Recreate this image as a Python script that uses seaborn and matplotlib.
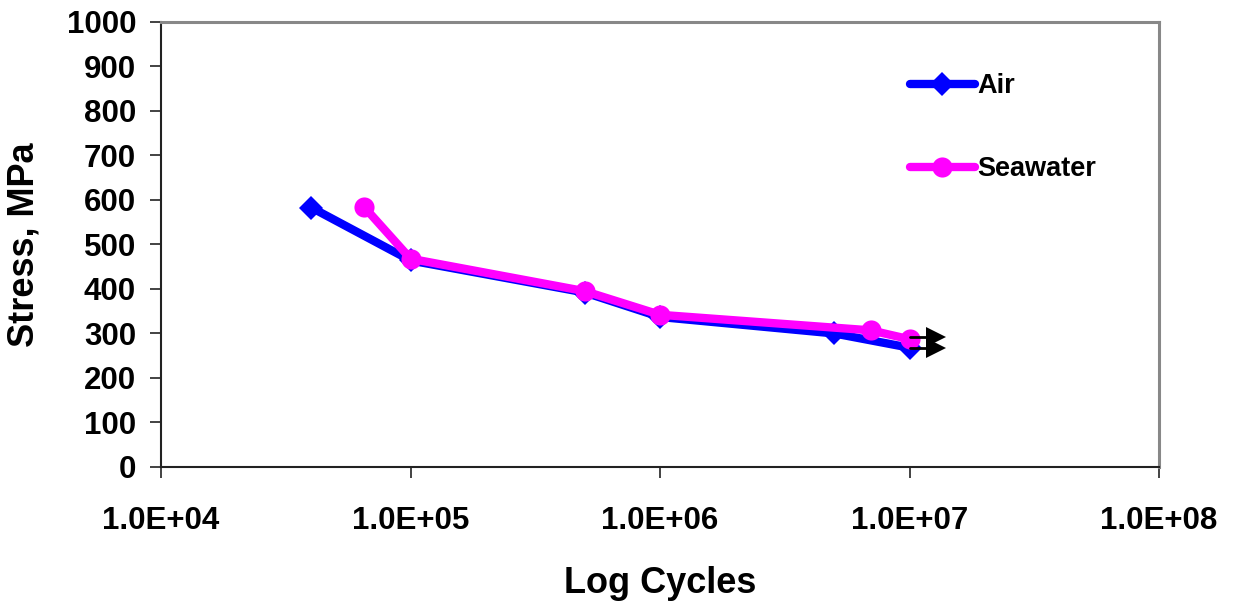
import matplotlib
matplotlib.use('Agg')
from matplotlib import pyplot as plt
import numpy as np
import pandas as pd
import seaborn as sns

# S-N data
air_cycles = [4.0e4, 1.0e5, 5.0e5, 1.0e6, 5.0e6, 1.0e7]
air_stress = [583, 464, 392, 337, 300, 268]
sea_cycles = [6.5e4, 1.0e5, 5.0e5, 1.0e6, 7.0e6, 1.0e7]
sea_stress = [585, 468, 395, 342, 307, 287]

# run-out arrows (specimens that did not fail)
runout_cycles = [1.0e7, 1.0e7]
runout_stress = [268, 293]

x_ticks = [1e4, 1e5, 1e6, 1e7, 1e8]
x_labels = ['1.0E+04', '1.0E+05', '1.0E+06', '1.0E+07', '1.0E+08']
y_ticks = list(range(0, 1001, 100))

df = pd.DataFrame({
    'Cycles': air_cycles + sea_cycles,
    'Stress': air_stress + sea_stress,
    'Env': ['Air'] * len(air_cycles) + ['Seawater'] * len(sea_cycles),
})

sns.set_style('white')
plt.rcParams['font.family'] = ['Liberation Sans', 'DejaVu Sans']
plt.rcParams['font.weight'] = 'bold'
plt.rcParams['text.color'] = 'black'
plt.rcParams['axes.labelcolor'] = 'black'
plt.rcParams['xtick.color'] = 'black'
plt.rcParams['ytick.color'] = 'black'

fig = plt.figure(figsize=(12.35, 6.02), dpi=100)
ax = fig.add_axes([0.1304, 0.2243, 0.8081, 0.7392])

sns.lineplot(data=df, x='Cycles', y='Stress', hue='Env', style='Env',
             palette={'Air': '#0000FF', 'Seawater': '#FF00FF'},
             markers={'Air': 'D', 'Seawater': 'o'}, dashes=False,
             estimator=None, sort=False, linewidth=6, markersize=13,
             markeredgewidth=0, ax=ax)
# marker sizes per series
for line in ax.get_lines():
    if line.get_marker() == 'o':
        line.set_markersize(14.5)
    elif line.get_marker() == 'D':
        line.set_markersize(12.5)

for xc, ys in zip(runout_cycles, runout_stress):
    ax.plot([xc, xc * 1.22], [ys, ys], color='black', lw=2, zorder=5)
    ax.plot([xc * 1.28], [ys], marker='>', color='black', ms=14, mew=0, zorder=5)

ax.set_xscale('log')
ax.set_xlim(1e4, 1e8)
ax.set_ylim(0, 1000)
ax.set_xticks(x_ticks)
ax.set_xticklabels(x_labels)
ax.minorticks_off()
ax.set_yticks(y_ticks)

ax.tick_params(axis='both', which='major', direction='out', length=8,
               width=1.2, color='#222222', labelcolor='black', labelsize=22.5,
               left=True, bottom=True)
ax.tick_params(axis='y', pad=10)
ax.tick_params(axis='x', pad=20)
for lab in ax.get_xticklabels() + ax.get_yticklabels():
    lab.set_fontweight('bold')

ax.set_xlabel('Log Cycles', fontsize=26, fontweight='bold', labelpad=22)
ax.set_ylabel('Stress, MPa', fontsize=26, fontweight='bold', labelpad=18)

for side in ['left', 'bottom']:
    ax.spines[side].set_color('#222222')
    ax.spines[side].set_linewidth(1.5)
for side in ['top', 'right']:
    ax.spines[side].set_color('#888888')
    ax.spines[side].set_linewidth(2.2)

handles, labels = ax.get_legend_handles_labels()
leg = ax.legend(handles, labels, loc='upper left', bbox_to_anchor=(0.75, 0.885),
                frameon=False, fontsize=19.5, handlelength=2.4, handletextpad=0.1,
                labelspacing=2.1, borderpad=0, borderaxespad=0)
for t in leg.get_texts():
    t.set_fontweight('bold')
    t.set_color('black')

fig.savefig('out.png', dpi=100, facecolor='white')
